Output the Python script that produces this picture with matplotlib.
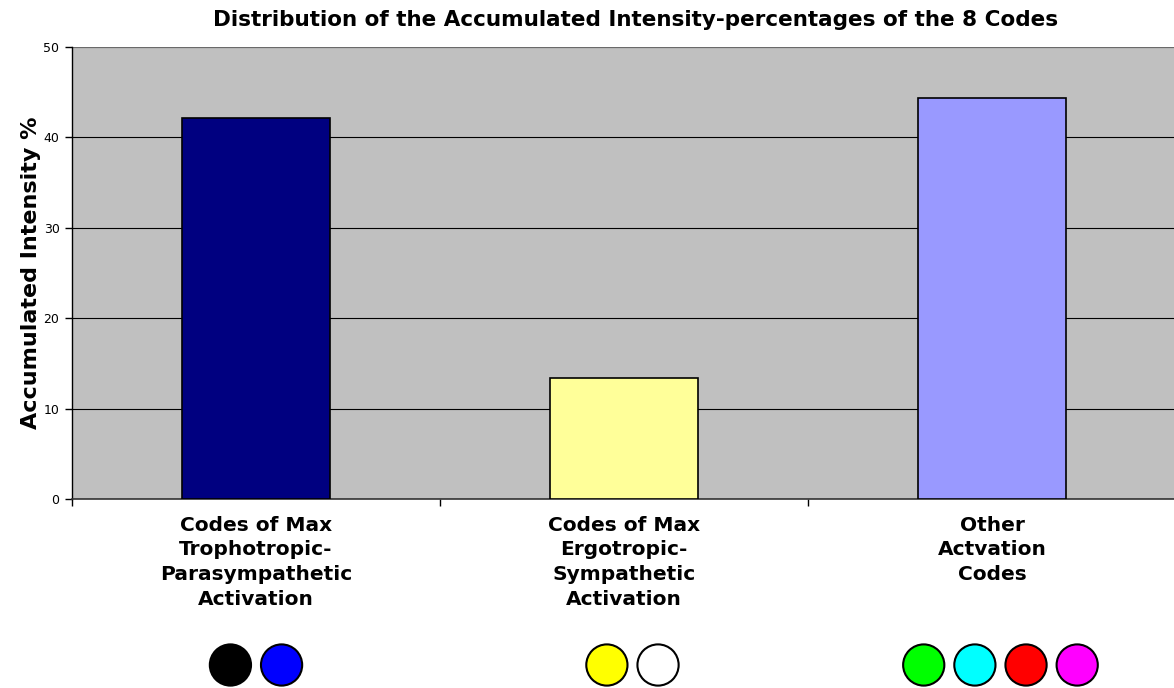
import matplotlib
matplotlib.use("Agg")
import matplotlib.pyplot as plt
import numpy as np

categories = ["Codes of Max\nTrophotropic-\nParasympathetic\nActivation",
              "Codes of Max\nErgotropic-\nSympathetic\nActivation",
              "Other\nActvation\nCodes"]
values = [42.1, 13.4, 44.4]
bar_colors = ["#000080", "#FFFF99", "#9999FF"]
code_colors = [["#000000", "#0000FF"],
               ["#FFFF00", "#FFFFFF"],
               ["#00FF00", "#00FFFF", "#FF0000", "#FF00FF"]]
yticks = [0, 10, 20, 30, 40, 50]

plt.rcParams['font.family'] = ['DejaVu Sans']

W, H = 1174, 688
fig = plt.figure(figsize=(W / 100, H / 100), dpi=100)
left, right, top, bottom = 72, 1176, 47, 499
ax = fig.add_axes([left / W, 1 - bottom / H, (right - left) / W, (bottom - top) / H])
ax.set_facecolor("#C0C0C0")

x = np.arange(len(categories))
ax.bar(x, values, width=0.40, color=bar_colors, edgecolor="black", linewidth=1.2, zorder=3)
ax.set_xlim(-0.5, len(categories) - 0.5)
ax.set_ylim(0, 50)
ax.set_yticks(yticks)
ax.set_yticklabels([str(v) for v in yticks], fontsize=9)
ax.yaxis.grid(True, color="black", linewidth=0.8, zorder=0)
ax.set_axisbelow(True)
for s in ["top", "right"]:
    ax.spines[s].set_visible(False)
ax.spines["left"].set_linewidth(1.0)
ax.spines["bottom"].set_linewidth(1.2)
ax.spines["bottom"].set_color("#333333")
ax.axhline(50, color="#808080", linewidth=1.2, zorder=1)
ax.tick_params(axis="y", length=5, width=1, direction="out", pad=4)

# category boundary ticks on x
ax.set_xticks(np.arange(len(categories) + 1) - 0.5)
ax.set_xticklabels([])
ax.tick_params(axis="x", length=5, width=1, direction="out")
for i, lab in enumerate(categories):
    ax.text(i, -0.037, lab, transform=ax.get_xaxis_transform(), ha="center", va="top",
            fontsize=14.5, fontweight="bold", linespacing=1.38)

ax.set_ylabel("Accumulated Intensity %", fontsize=16, fontweight="bold", labelpad=1.5)

# colour-code circles under each category
spacing = 0.139
shifts = [0.0, 0.023, 0.023]
trans = ax.get_xaxis_transform()
for i, cols in enumerate(code_colors):
    n = len(cols)
    xs = [i + shifts[i] + (j - (n - 1) / 2) * spacing for j in range(n)]
    ax.scatter(xs, [-(665 - bottom) / (bottom - top)] * n, s=880, c=cols,
               edgecolors="black", linewidths=1.5, transform=trans, clip_on=False, zorder=5)

fig.text(636 / W, 1 - 20 / H, "Distribution of the Accumulated Intensity-percentages of the 8 Codes",
         ha="center", va="center", fontsize=15.5, fontweight="bold")

fig.savefig("out.png", dpi=100)
